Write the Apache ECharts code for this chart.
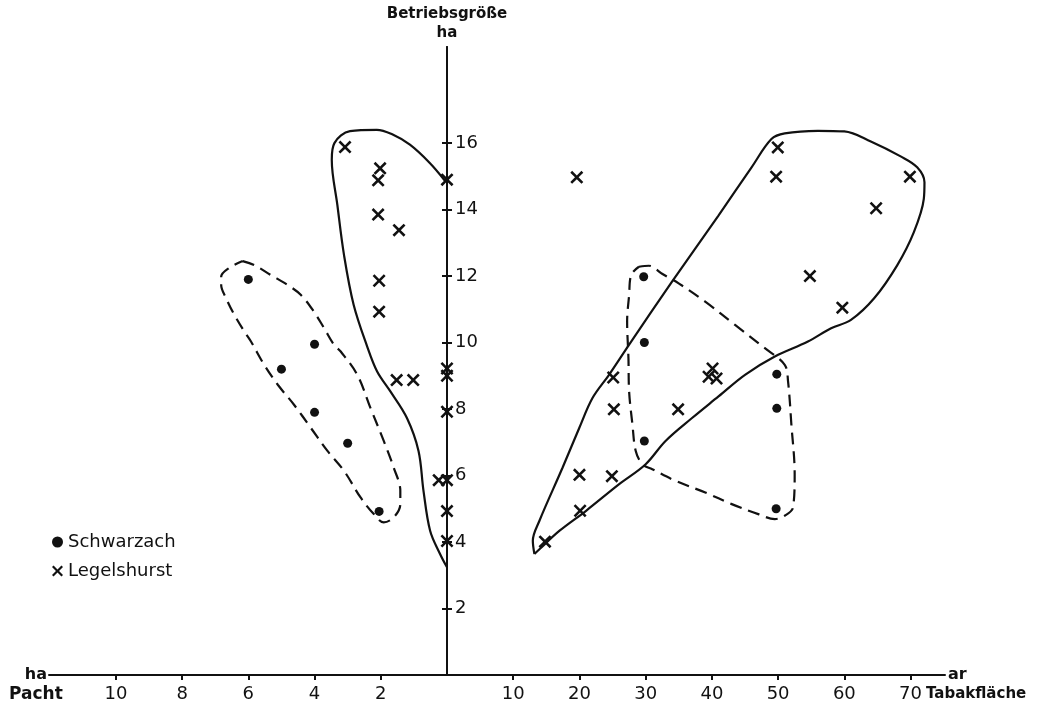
<!DOCTYPE html>
<html>
<head>
<meta charset="utf-8">
<script src="https://cdn.jsdelivr.net/npm/echarts@6/dist/echarts.min.js"></script>
<style>html,body{margin:0;padding:0;background:#fff}#c{width:1045px;height:709px}</style>
</head>
<body>
<div id="c"></div>
<script>
// ---- tick labels ----
const pachtTicks = [2, 4, 6, 8, 10];          // ha (left)
const tabakTicks = [10, 20, 30, 40, 50, 60, 70]; // ar (right)
const sizeTicks = [2, 4, 6, 8, 10, 12, 14, 16];  // Betriebsgröße ha

// ---- points: [Pacht ha, Betriebsgröße ha] (left side) ----
const schwarzachPacht = [[6, 11.9], [5, 9.2], [4, 9.95], [4, 7.9], [3, 6.97], [2.05, 4.92]];
const legelshurstPacht = [
  [3.08, 15.88], [2.02, 15.24], [2.08, 14.88], [2.08, 13.85], [1.45, 13.38],
  [2.05, 11.86], [2.05, 10.93], [1.52, 8.87], [1.02, 8.87],
  [0, 14.9], [0, 9.22], [0, 9.0], [0, 7.92], [0, 5.86], [0.25, 5.86], [0, 4.93], [0, 4.03]
];
// ---- points: [Tabakfläche ar, Betriebsgröße ha] (right side) ----
const schwarzachTabak = [[29.7, 11.98], [29.8, 10.0], [49.8, 9.05], [49.8, 8.02], [29.8, 7.04], [49.7, 5.0]];
const legelshurstTabak = [
  [19.6, 14.97], [49.95, 15.87], [49.7, 14.99], [69.9, 14.99], [64.8, 14.04],
  [54.8, 12.0], [59.7, 11.05], [25.1, 8.95], [25.2, 7.99], [34.9, 7.99],
  [39.5, 8.97], [40.1, 9.22], [40.7, 8.92], [20.0, 6.02], [24.9, 5.98], [20.1, 4.94], [14.8, 4.01]
];

// ---- group outlines (data coordinates) ----
const outlineLegelshurstLeft = [
  [0, 3.24], [0.21, 3.64], [0.51, 4.34], [0.71, 5.54], [0.86, 6.74], [1.21, 7.73], [1.71, 8.53],
  [2.11, 9.13], [2.41, 9.88], [2.82, 11.14], [3.11, 12.63], [3.31, 14.13], [3.48, 15.5],
  [3.4, 16.0], [2.93, 16.36], [2.12, 16.4], [1.67, 16.27], [1.12, 15.95], [0.52, 15.4], [0.05, 14.85]
];
const outlineSchwarzachLeft = [
  [6.17, 12.45], [5.82, 12.33], [5.32, 12.03], [4.81, 11.73], [4.41, 11.43], [4.02, 10.93],
  [3.71, 10.43], [3.41, 9.93], [3.21, 9.73], [2.71, 9.03], [2.31, 8.03], [1.91, 7.04],
  [1.61, 6.24], [1.41, 5.54], [1.41, 5.14], [1.61, 4.74], [1.91, 4.59], [2.21, 4.84],
  [2.61, 5.34], [3.11, 6.14], [3.61, 6.74], [4.11, 7.43], [4.62, 8.13], [5.11, 8.73],
  [5.52, 9.33], [5.92, 10.03], [6.12, 10.33], [6.42, 10.83], [6.67, 11.33], [6.82, 11.73],
  [6.82, 11.98], [6.57, 12.25], [6.17, 12.45]
];
const outlineLegelshurstRight = [
  [13.2, 3.64], [12.96, 4.04], [13.96, 4.64], [17.46, 6.24], [19.97, 7.43], [21.97, 8.33],
  [24.47, 9.03], [27.48, 9.93], [33.98, 11.83], [40.99, 13.82], [45.99, 15.27], [48.99, 16.12],
  [51.0, 16.29], [56.0, 16.37], [60.0, 16.35], [64.0, 16.05], [68.5, 15.6], [71.0, 15.27],
  [72.1, 14.82], [72.0, 14.32], [70.5, 13.32], [68.0, 12.33], [64.5, 11.33], [61.0, 10.68],
  [58.0, 10.43], [54.5, 10.03], [49.5, 9.58], [45.0, 9.03], [41.0, 8.38], [37.0, 7.73],
  [33.0, 7.04], [30.0, 6.34], [26.0, 5.74], [21.0, 4.94], [17.0, 4.34], [14.0, 3.79], [13.2, 3.64]
];
const outlineSchwarzachRight = [
  [28.98, 12.28], [30.48, 12.31], [32.48, 12.07], [34.98, 11.78], [38.99, 11.23], [43.5, 10.53],
  [48.0, 9.83], [51.0, 9.33], [51.5, 8.83], [52.0, 7.54], [52.5, 6.04], [52.25, 5.04],
  [51.0, 4.79], [49.5, 4.69], [47.0, 4.84], [43.0, 5.14], [39.0, 5.49], [34.5, 5.84],
  [31.0, 6.19], [29.5, 6.34], [28.5, 6.74], [28.0, 7.54], [27.5, 8.53], [27.4, 9.53],
  [27.2, 10.63], [27.5, 11.43], [27.8, 12.03], [28.98, 12.28]
];

const X_PATH = 'path://M0,1.4L1.4,0L5,3.6L8.6,0L10,1.4L6.4,5L10,8.6L8.6,10L5,6.4L1.4,10L0,8.6L3.6,5Z';
const INK = '#111';
const FONT = 'DejaVu Sans';

const chart = echarts.init(document.getElementById('c'), null, {renderer: 'canvas'});

function xAxisBase(extra) {
  return Object.assign({
    type: 'value',
    splitLine: {show: false},
    axisLine: {show: true, onZero: false, lineStyle: {color: INK, width: 2}},
    nameTextStyle: {color: INK, fontSize: 16, fontWeight: 'bold', fontFamily: FONT}
  }, extra);
}
function yAxisBase(extra) {
  return Object.assign({
    type: 'value',
    min: 0, max: 18.89,
    splitLine: {show: false},
    axisLine: {show: true, onZero: false, lineStyle: {color: INK, width: 2}},
    axisTick: {show: true, length: 5, customValues: sizeTicks, lineStyle: {color: INK, width: 2}},
  }, extra);
}
function outline(data, xi, dashed) {
  return {
    type: 'line', data: data, xAxisIndex: xi, yAxisIndex: xi,
    smooth: 0.35, symbol: 'none', silent: true, clip: false, z: 1,
    lineStyle: {color: INK, width: 2.2, type: dashed ? [12, 7] : 'solid'}
  };
}
function dots(data, xi) {
  return {type: 'scatter', name: 'Schwarzach', data: data, xAxisIndex: xi, yAxisIndex: xi,
    symbol: 'circle', symbolSize: 9, clip: false, z: 3, itemStyle: {color: INK, opacity: 1}};
}
function crosses(data, xi) {
  return {type: 'scatter', name: 'Legelshurst', data: data, xAxisIndex: xi, yAxisIndex: xi,
    symbol: X_PATH, symbolSize: 13, clip: false, z: 3, itemStyle: {color: INK, opacity: 1}};
}
const tickLabel = {color: INK, fontSize: 18, fontFamily: FONT, margin: 10};

chart.setOption({
  animation: false,
  backgroundColor: '#fff',
  grid: [
    {left: 49, right: 598, top: 47, bottom: 34},
    {left: 447, right: 100, top: 47, bottom: 34}
  ],
  xAxis: [
    xAxisBase({gridIndex: 0, min: 0, max: 12.02, interval: 2, inverse: true,
      axisTick: {show: true, length: 5, customValues: pachtTicks, lineStyle: {color: INK, width: 2}},
      axisLabel: Object.assign({customValues: pachtTicks}, tickLabel),
      name: 'ha', nameLocation: 'end', nameGap: 2}),
    xAxisBase({gridIndex: 1, min: 0, max: 75.2, interval: 10,
      axisTick: {show: true, length: 5, customValues: tabakTicks, lineStyle: {color: INK, width: 2}},
      axisLabel: Object.assign({customValues: tabakTicks}, tickLabel),
      name: 'ar', nameLocation: 'end', nameGap: 3})
  ],
  yAxis: [
    yAxisBase({gridIndex: 0, position: 'right', axisLabel: {show: false}}),
    yAxisBase({gridIndex: 1, position: 'left',
      axisLabel: {show: true, inside: true, margin: 8, customValues: sizeTicks, color: INK, fontSize: 18, fontFamily: FONT},
      name: 'Betriebsgröße\nha', nameLocation: 'end', nameGap: 4,
      nameTextStyle: {color: INK, fontSize: 15, fontWeight: 'bold', fontFamily: FONT, lineHeight: 19, align: 'center'}})
  ],
  legend: {
    orient: 'vertical', left: 47, top: 528, itemGap: 11, itemWidth: 11, itemHeight: 11,
    textStyle: {color: INK, fontSize: 18, fontFamily: FONT},
    data: [
      {name: 'Schwarzach', icon: 'circle'},
      {name: 'Legelshurst', icon: X_PATH}
    ]
  },
  graphic: [
    {type: 'text', left: 9, top: 686, style: {text: 'Pacht', fill: INK, font: 'bold 17px "DejaVu Sans"'}},
    {type: 'text', left: 926, top: 687, style: {text: 'Tabakfläche', fill: INK, font: 'bold 15px "DejaVu Sans"'}}
  ],
  series: [
    outline(outlineLegelshurstLeft, 0, false),
    outline(outlineSchwarzachLeft, 0, true),
    outline(outlineLegelshurstRight, 1, false),
    outline(outlineSchwarzachRight, 1, true),
    dots(schwarzachPacht, 0),
    crosses(legelshurstPacht, 0),
    dots(schwarzachTabak, 1),
    crosses(legelshurstTabak, 1)
  ]
});
</script>
</body>
</html>
